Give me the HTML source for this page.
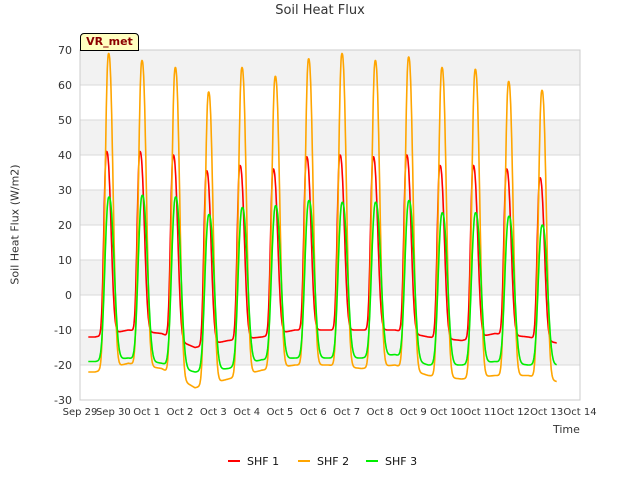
<!DOCTYPE html>
<html><head><meta charset="utf-8"><style>
body{margin:0;background:#fff;font-family:"Liberation Sans","DejaVu Sans",sans-serif;}
svg text{font-family:"DejaVu Sans","Liberation Sans",sans-serif;}
</style></head><body>
<svg id="c" width="640" height="480" viewBox="0 0 640 480"></svg>
<script>
const dayLabels=["Sep 29","Sep 30","Oct 1","Oct 2","Oct 3","Oct 4","Oct 5","Oct 6","Oct 7","Oct 8","Oct 9","Oct 10","Oct 11","Oct 12","Oct 13","Oct 14"];
const yTicks=[-30,-20,-10,0,10,20,30,40,50,60,70];
const seriesNames=["SHF 1","SHF 2","SHF 3"];
const shf1Peaks=[41,41,40,35.5,37,36,39.5,40,39.5,40,37,37,36,33.5];
const shf1Troughs=[-12,-10,-11,-15,-13,-12,-10,-10,-10,-10,-12,-13,-11,-12,-14];
const shf2Peaks=[69,67,65,58,65,62.5,67.5,69,67,68,65,64.5,61,58.5];
const shf2Troughs=[-22,-19.5,-21,-26.5,-24,-21.5,-20,-20,-21,-20,-23,-24,-23,-23,-25];
const shf3Peaks=[28,28.5,28,23,25,25.5,27,26.5,26.5,27,23.5,23.5,22.5,20];
const shf3Troughs=[-19,-18,-19.5,-22,-21,-18.5,-18,-18,-18,-17,-20,-20,-19,-20,-20];

const NS="http://www.w3.org/2000/svg";
const svg=document.getElementById('c');
const L=80,R=580,T=50,B=400;
const xs=d=>L+(d/15)*(R-L);
const ys=v=>B-(v+30)/100*(B-T);
function el(tag,attrs,parent){const e=document.createElementNS(NS,tag);for(const k in attrs)e.setAttribute(k,attrs[k]);(parent||svg).appendChild(e);return e;}

for(let i=0;i<yTicks.length-1;i++){
  const lo=yTicks[i],hi=yTicks[i+1];
  const gray=[60,40,20,0,-20].includes(lo);
  const r=el('rect',{x:L,y:ys(hi),width:R-L,height:ys(lo)-ys(hi),fill:gray?'#f2f2f2':'#ffffff'});
  
  
}
yTicks.forEach(v=>{
  const g=el('line',{x1:L,x2:R,y1:ys(v),y2:ys(v),stroke:'#d9d9d9','stroke-width':1});
  
  
  const t=el('text',{x:L-8,y:ys(v)+4,'text-anchor':'end','font-size':11,fill:'#333'});
  t.textContent=v;
  
  
});
dayLabels.forEach((lab,i)=>{
  const t=el('text',{x:xs(i),y:B+15,'text-anchor':'middle','font-size':10,fill:'#333'});
  t.textContent=lab;
  
  
});
const frame=el('rect',{x:L,y:T,width:R-L,height:B-T,fill:'none',stroke:'#ccc'});



function baseAt(troughs,t){
  const c=t-0.45;
  let k=Math.floor(c);
  if(k<0)return troughs[0];
  if(k>=troughs.length-1)return troughs[troughs.length-1];
  const f=c-k;
  return troughs[k]+(troughs[k+1]-troughs[k])*f;
}
function build(peaks,troughs,pk,wr,wf){
  const pts=[];
  for(let t=0.25;t<=14.3;t+=0.01){
    const base=baseAt(troughs,t);
    let pulse=0,amp=0;
    const d=Math.floor(t);
    for(let k=Math.max(0,d-1);k<=Math.min(peaks.length-1,d+1);k++){
      const dx=t-(k+pk),w=dx<0?wr:wf;
      const f=Math.exp(-Math.pow(Math.abs(dx)/w,2.4));
      if(f>pulse){pulse=f;amp=peaks[k];}
    }
    const v=base+(amp-base)*pulse;
    pts.push(xs(t).toFixed(1)+','+ys(v).toFixed(1));
  }
  return pts.join(' ');
}
const cols=['#ff0000','#ffa500','#00ee00'];
const data=[[shf1Peaks,shf1Troughs,0.8,0.11,0.17],[shf2Peaks,shf2Troughs,0.86,0.14,0.17],[shf3Peaks,shf3Troughs,0.87,0.16,0.2]];
const names=['shf1-line','shf2-line','shf3-line'];
data.forEach((s,i)=>{
  const p=el('polyline',{points:build(s[0],s[1],s[2],s[3],s[4]),fill:'none',stroke:cols[i],'stroke-width':1.6,'stroke-linejoin':'round'});
  
  
});
const lx=[228,298,366];
seriesNames.forEach((n,i)=>{
  const l=el('line',{x1:lx[i],x2:lx[i]+12,y1:461,y2:461,stroke:cols[i],'stroke-width':2});
  
  
  const t=el('text',{x:lx[i]+19,y:465,'font-size':11,fill:'#111'});
  t.textContent=n;
  
  
});
</script>
<div style="position:absolute;left:0;top:0;width:640px;height:480px;pointer-events:none">
<div style="position:absolute;top:3px;width:640px;text-align:center;font:13px 'DejaVu Sans','Liberation Sans',sans-serif;color:#333">Soil Heat Flux</div>
<div style="position:absolute;left:-50px;top:218px;width:130px;text-align:center;transform:rotate(-90deg);font:11px 'DejaVu Sans','Liberation Sans',sans-serif;color:#333">Soil Heat Flux (W/m2)</div>
<div style="position:absolute;left:553px;top:423px;font:11px 'DejaVu Sans','Liberation Sans',sans-serif;color:#333">Time</div>
<div style="position:absolute;left:80px;top:33px;width:57px;height:16px;background:#ffffc0;border:1px solid #000;border-radius:4px 4px 0 0;font:bold 11px 'DejaVu Sans','Liberation Sans',sans-serif;color:#8b0000;line-height:16px;text-align:center">VR_met</div>
</div>
</body></html>
